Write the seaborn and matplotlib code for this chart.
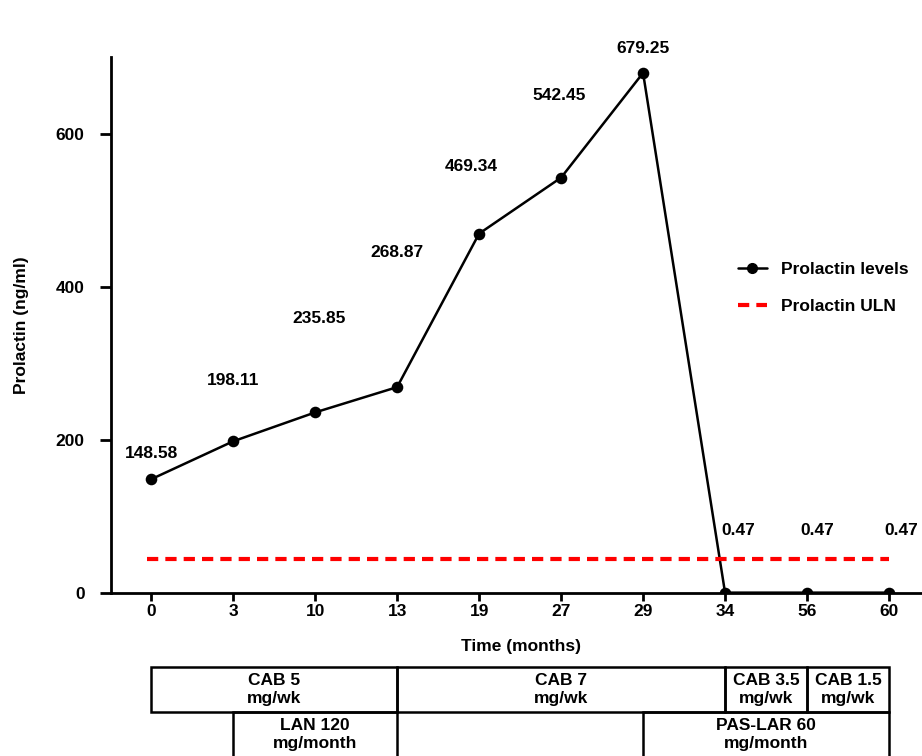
import matplotlib
matplotlib.use("Agg")
import matplotlib.pyplot as plt
import seaborn as sns
from matplotlib.lines import Line2D
from matplotlib.patches import Rectangle

months = ["0", "3", "10", "13", "19", "27", "29", "34", "56", "60"]
prolactin = [148.58, 198.11, 235.85, 268.87, 469.34, 542.45, 679.25, 0.47, 0.47, 0.47]
value_text = ["148.58", "198.11", "235.85", "268.87", "469.34", "542.45", "679.25", "0.47", "0.47", "0.47"]
uln = 44

# treatment bars: (start index, end index, row, text)
treatments = [
    (0, 3, 0, "CAB 5\nmg/wk"),
    (3, 7, 0, "CAB 7\nmg/wk"),
    (7, 8, 0, "CAB 3.5\nmg/wk"),
    (8, 9, 0, "CAB 1.5\nmg/wk"),
    (1, 3, 1, "LAN 120\nmg/month"),
    (6, 9, 1, "PAS-LAR 60\nmg/month"),
]

# label placement (layout only)
label_y = [182, 277, 358, 445, 557, 650, 711, 81, 81, 81]
label_dx = [0, 0, 0.05, 0, -0.1, -0.03, 0, 0.16, 0.13, 0.15]

FS = 12.5
sns.set_style("ticks")
plt.rcParams["font.family"] = ["Liberation Sans", "DejaVu Sans"]
plt.rcParams["font.weight"] = "bold"
plt.rcParams["text.color"] = "black"
plt.rcParams["xtick.color"] = "black"
plt.rcParams["ytick.color"] = "black"
plt.rcParams["axes.labelcolor"] = "black"
plt.rcParams["axes.edgecolor"] = "black"

fig = plt.figure(figsize=(9.22, 7.56), dpi=100)
ax = fig.add_axes([111 / 922, 1 - 593 / 756, (930 - 111) / 922, (593 - 57) / 756])

sns.pointplot(x=months, y=prolactin, order=months, color="black", markers="o",
              markersize=7, linewidth=1.8, errorbar=None, ax=ax)
ax.plot([-0.05, 9], [uln, uln], color="red", linestyle=(0, (2.7, 1.7)), linewidth=3)

for i, t in enumerate(value_text):
    ax.text(i + label_dx[i], label_y[i], t, ha="center", va="center",
            fontsize=FS, fontweight="bold", clip_on=False)

ax.set_xlim(-0.49, 9.5)
ax.set_ylim(0, 700)
ax.set_yticks([0, 200, 400, 600])
ax.set_xlabel("Time (months)", fontsize=FS, fontweight="bold", labelpad=14)
ax.set_ylabel("Prolactin (ng/ml)", fontsize=FS, fontweight="bold", labelpad=19)
ax.tick_params(axis="y", length=8, width=2, labelsize=FS, pad=11)
ax.tick_params(axis="x", length=6, width=2, labelsize=FS, pad=2)
for lab in ax.get_xticklabels() + ax.get_yticklabels():
    lab.set_fontweight("bold")
for s in ["left", "bottom"]:
    ax.spines[s].set_linewidth(2)
sns.despine(ax=ax)

row_top = [-0.138, -0.222]
row_h = 0.084
trans = ax.get_xaxis_transform()
for x0, x1, row, txt in treatments:
    y0 = row_top[row] - row_h
    ax.add_patch(Rectangle((x0, y0), x1 - x0, row_h, transform=trans, fill=False,
                           edgecolor="black", linewidth=1.8, clip_on=False))
    ax.text((x0 + x1) / 2, y0 + row_h / 2, txt, transform=trans, ha="center", va="center",
            fontsize=FS, fontweight="bold", linespacing=1.25, clip_on=False)

handles = [
    Line2D([], [], color="black", marker="o", markersize=7, linewidth=1.8),
    Line2D([], [], color="red", linestyle=(0, (2.7, 1.7)), linewidth=3),
]
fig.legend(handles, ["Prolactin levels", "Prolactin ULN"], loc="upper left",
           bbox_to_anchor=(722 / 922, 1 - 246 / 756), frameon=False,
           prop={"weight": "bold", "size": FS}, handlelength=1.7, labelspacing=1.25,
           handletextpad=0.8)

fig.savefig("out.png", dpi=100)
